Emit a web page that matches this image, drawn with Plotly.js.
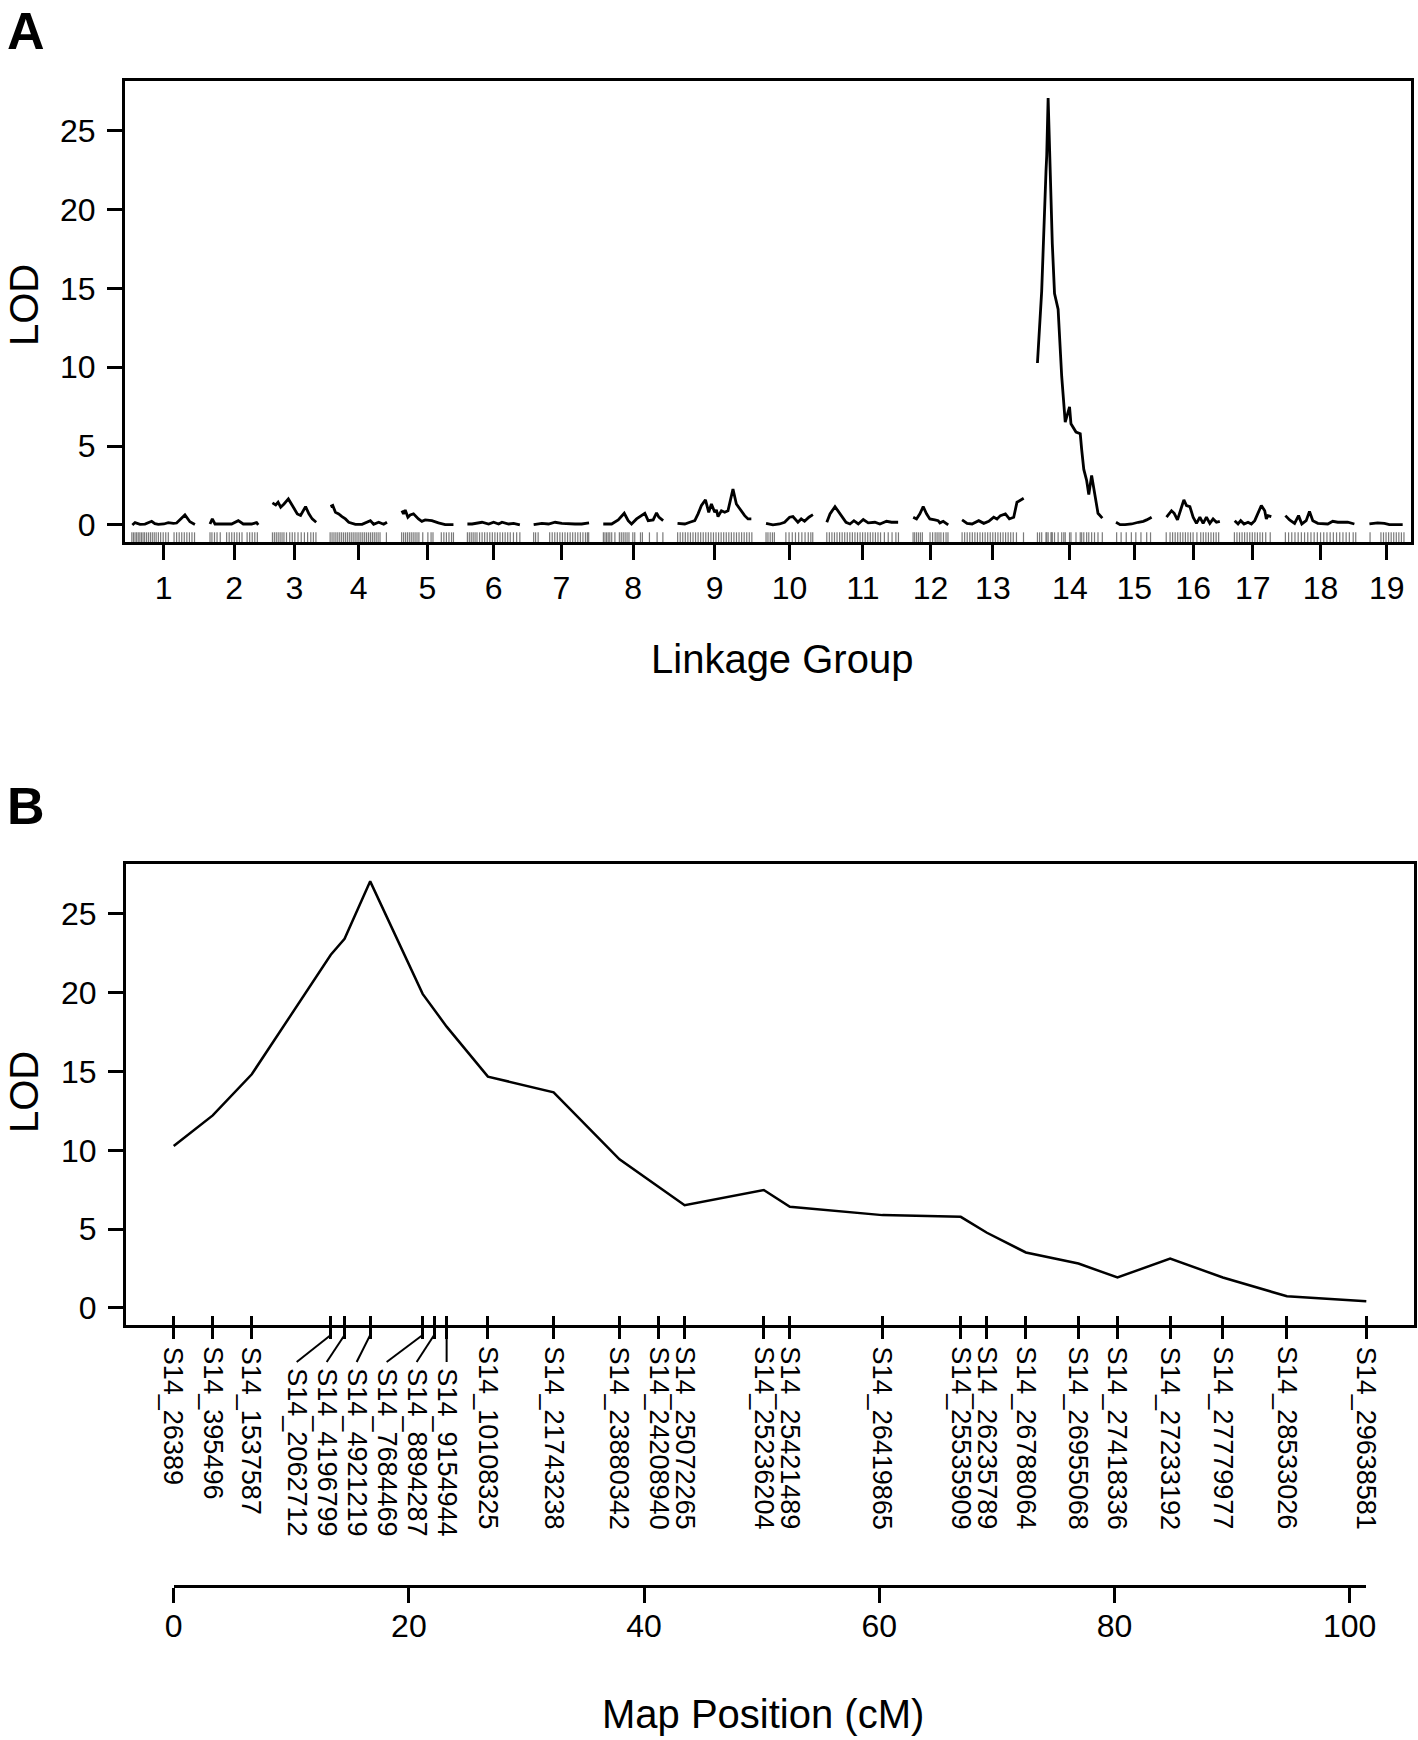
<!DOCTYPE html>
<html>
<head>
<meta charset="utf-8">
<script src="https://cdn.plot.ly/plotly-3.0.1.min.js"></script>
<style>
html,body{margin:0;padding:0;background:#ffffff;}
#plot{width:1418px;height:1740px;}
</style>
</head>
<body>
<div id="plot"></div>
<script>
// ---------------- DATA ----------------
// Panel A: genome-wide scan, 19 linkage groups (positions in cM within each group)
const chromosomes = ['1','2','3','4','5','6','7','8','9','10','11','12','13','14','15','16','17','18','19'];
const chrLengths = [99.8, 77.2, 68.8, 89.4, 82.4, 82.2, 86.6, 94.7, 117.8, 73.6, 113, 55.7, 96.4, 101.42, 57.1, 84.2, 59.3, 110, 54.3];
const chrGap = 21.4;

const lg1Pos = [0.8, 5, 12.8, 20.6, 31, 36, 41.4, 50, 57, 65, 70, 75.2, 83, 90.8, 98.6];
const lg1Lod = [0.0, 0.15, 0.04, 0.05, 0.23, 0.08, 0.03, 0.06, 0.15, 0.1, 0.12, 0.3, 0.63, 0.2, 0.03];
const lg2Pos = [1, 4.6, 8.8, 24.4, 34.8, 45.2, 53, 66, 73.8, 76.4];
const lg2Lod = [0.06, 0.38, 0.06, 0.06, 0.06, 0.27, 0.06, 0.06, 0.15, 0.0];
const lg3Pos = [0, 5.1, 8.8, 12.9, 18.1, 24.9, 31.1, 38.9, 44, 51.8, 57, 62.2, 68.4];
const lg3Lod = [1.4, 1.27, 1.44, 1.12, 1.33, 1.65, 1.23, 0.7, 0.6, 1.16, 0.7, 0.38, 0.17];
const lg4Pos = [0.5, 4.1, 8.3, 13.4, 18.6, 23.9, 29.1, 39.5, 49.9, 62.9, 68, 75.9, 83.7, 88.9];
const lg4Lod = [1.16, 1.23, 0.8, 0.7, 0.53, 0.38, 0.17, 0.04, 0.04, 0.27, 0.04, 0.17, 0.04, 0.17];
const lg5Pos = [1.4, 3.9, 6.6, 10.8, 14.4, 19.5, 27.3, 32.6, 37.8, 48.2, 58.5, 69, 82];
const lg5Lod = [0.9, 0.7, 0.95, 0.49, 0.63, 0.7, 0.38, 0.23, 0.32, 0.27, 0.13, 0.02, 0.02];
const lg6Pos = [0, 7.3, 22.9, 33.2, 41, 48.8, 54.1, 64.5, 72.3, 82];
const lg6Lod = [0.06, 0.06, 0.17, 0.06, 0.17, 0.06, 0.17, 0.06, 0.1, 0.0];
const lg7Pos = [0, 12.8, 23.2, 33.5, 44, 54.3, 64.7, 75.1, 86.6];
const lg7Lod = [0.02, 0.1, 0.06, 0.17, 0.1, 0.06, 0.06, 0.06, 0.13];
const lg8Pos = [0.8, 13.9, 24.2, 33.6, 39.8, 45, 52.9, 65.8, 71, 78.8, 84.1, 87.7, 94.4];
const lg8Lod = [0.06, 0.06, 0.32, 0.74, 0.27, 0.06, 0.38, 0.74, 0.27, 0.32, 0.76, 0.49, 0.27];
const lg9Pos = [0.8, 12.2, 20, 27.8, 32.9, 38.2, 44.5, 49.6, 53.8, 59, 61.6, 64.1, 69.4, 74.6, 79.7, 84, 87.5, 92.8, 98, 105.8, 111, 116.2];
const lg9Lod = [0.1, 0.06, 0.17, 0.27, 0.7, 1.23, 1.59, 0.8, 1.33, 0.8, 0.95, 0.53, 0.9, 0.8, 0.9, 1.65, 2.28, 1.33, 1.0, 0.59, 0.38, 0.38];
const lg10Pos = [0, 10.8, 21.2, 29, 36.8, 42, 49.8, 55, 60.2, 67, 73.3];
const lg10Lod = [0.1, 0.0, 0.06, 0.17, 0.49, 0.53, 0.17, 0.38, 0.23, 0.49, 0.65];
const lg11Pos = [0, 5, 12.8, 20.6, 30, 36.2, 42.4, 49.2, 57, 64.7, 75.2, 83, 93.4, 101.2, 111.5];
const lg11Lod = [0.17, 0.7, 1.16, 0.7, 0.17, 0.06, 0.27, 0.06, 0.34, 0.13, 0.17, 0.06, 0.23, 0.17, 0.17];
const lg12Pos = [0.7, 5.9, 11.1, 16.3, 21.5, 26.7, 34.5, 39.7, 42.4, 47.6, 55.4];
const lg12Lod = [0.49, 0.38, 0.7, 1.16, 0.7, 0.38, 0.32, 0.27, 0.13, 0.23, 0.0];
const lg13Pos = [0, 7.8, 15.6, 26, 33.9, 41.7, 49.5, 54.6, 59.9, 67.7, 73.9, 80.7, 85.8, 91.1, 96.3];
const lg13Lod = [0.32, 0.1, 0.06, 0.27, 0.1, 0.23, 0.49, 0.38, 0.59, 0.7, 0.38, 0.49, 1.44, 1.54, 1.69];
const lg15Pos = [0, 6.4, 14.2, 24.5, 34.9, 42.7, 47.9, 55.7];
const lg15Lod = [0.17, 0.02, 0.02, 0.06, 0.17, 0.23, 0.32, 0.49];
const lg16Pos = [0.5, 8.3, 12.5, 17.6, 23.9, 27.6, 31.7, 37, 42.1, 47.3, 52.6, 57.7, 62.9, 68.2, 73.3, 78.5, 83.8];
const lg16Lod = [0.49, 0.9, 0.74, 0.32, 1.12, 1.59, 1.23, 1.16, 0.49, 0.1, 0.49, 0.1, 0.49, 0.1, 0.38, 0.17, 0.23];
const lg17Pos = [1.5, 6.7, 10.9, 16.1, 22.3, 27.5, 32.8, 37.9, 43.1, 48.4, 50.9, 53.5, 58.7];
const lg17Lod = [0.27, 0.06, 0.27, 0.06, 0.17, 0.06, 0.27, 0.7, 1.23, 0.9, 0.38, 0.59, 0.53];
const lg18Pos = [0, 6.6, 14.4, 20.6, 25.7, 32.5, 37.7, 42.9, 50.7, 58.5, 66.3, 74.1, 81.9, 89.7, 97.5, 107.9];
const lg18Lod = [0.59, 0.32, 0.1, 0.59, 0.06, 0.27, 0.85, 0.27, 0.1, 0.06, 0.06, 0.23, 0.17, 0.17, 0.17, 0.06];
const lg19Pos = [0, 12.9, 23.4, 31.2, 41.6, 52];
const lg19Lod = [0.06, 0.13, 0.1, 0.02, 0.02, 0.02];

// marker positions (rug) per linkage group, cM
const rug1 = [0, 2.5, 5, 7.5, 10, 12.5, 15, 17.5, 20, 23, 26, 29, 32, 35, 38, 41.5, 45, 49, 53, 57, 66, 70, 74, 78, 82, 86, 90, 94, 98];
const rug2 = [1, 4, 8, 12, 17, 27, 31, 35, 39, 43, 47, 51, 59, 63, 67, 71, 75];
const rug3 = [0, 3, 6, 9, 12, 15, 18, 22, 27, 31, 35, 40, 45, 50, 55, 60, 64, 68];
const rug4 = [0, 3, 6, 9, 12, 15, 18, 21, 24, 27, 30, 33, 36, 39, 42, 45, 48, 51, 54, 57, 60, 63, 66, 69, 72, 75, 78, 88];
const rug5 = [1, 4, 7, 10, 13, 16, 19, 22, 25, 28, 34, 42, 47, 50, 63, 67, 71, 75, 79, 82];
const rug6 = [0, 3, 6, 9, 12, 15, 19, 23, 27, 31, 35, 39, 43, 47, 51, 55, 59, 63, 67, 72, 77, 82];
const rug7 = [0, 3, 7, 25, 29, 33, 37, 41, 45, 49, 53, 57, 61, 65, 69, 73, 77, 81, 84, 86];
const rug8 = [1, 3.5, 6, 8.5, 11, 14, 19, 26, 29, 32, 35, 38, 41, 47, 50, 59, 62, 73, 85, 94];
const rug9 = [1, 5, 9, 13, 17, 21, 25, 29, 33, 37, 41, 45, 49, 53, 57, 61, 65, 69, 73, 77, 81, 85, 89, 93, 97, 101, 105, 109, 113, 117];
const rug10 = [0, 3, 6.5, 10, 13, 31, 36, 41, 46, 51, 56, 61, 66, 70, 73];
const rug11 = [0, 4, 8, 12, 16, 20, 24, 28, 32, 36, 40, 44, 48, 52, 56, 60, 64, 68, 72, 76, 80, 84, 90, 96, 102, 108, 112];
const rug12 = [0.5, 3, 6, 9, 12, 15, 27, 31, 35, 38, 41, 44, 48, 52, 55];
const rug13 = [0, 4, 8, 12, 16, 20, 24, 28, 32, 36, 40, 44, 48, 52, 56, 60, 64, 68, 72, 76, 80, 85, 96];
const rug15 = [1, 8, 16, 24, 31, 39, 48, 54];
const rug16 = [0, 6, 10, 14, 18, 22, 26, 30, 34, 38, 42, 48, 54, 58, 62, 66, 70, 74, 78, 82];
const rug17 = [1, 5, 9, 13, 17, 21, 25, 29, 33, 37, 41, 45, 50, 57];
const rug18 = [0, 5, 10, 15, 20, 25, 30, 35, 40, 45, 50, 55, 60, 65, 70, 75, 80, 85, 90, 95, 100, 106, 110];
const rug19 = [1, 18, 22, 26, 30, 34, 38, 42, 46, 50, 54];

// Panel B: linkage group 14 markers
const markerNames = ['S14_26389','S14_395496','S14_1537587','S14_2062712','S14_4196799','S14_4921219','S14_7684469','S14_8894287','S14_9154944','S14_10108325','S14_21743238','S14_23880342','S14_24208940','S14_25072265','S14_25236204','S14_25421489','S14_26419865','S14_25535909','S14_26235789','S14_26788064','S14_26955068','S14_27418336','S14_27233192','S14_27779977','S14_28533026','S14_29638581'];
const markerPos = [0, 3.32, 6.64, 13.36, 14.53, 16.71, 21.17, 22.15, 23.21, 26.72, 32.31, 37.91, 41.23, 43.45, 50.18, 52.40, 60.27, 66.93, 69.16, 72.47, 76.94, 80.26, 84.74, 89.22, 94.67, 101.42];
const markerLod = [10.27, 12.22, 14.83, 22.41, 23.42, 27.07, 19.93, 18.9, 17.85, 14.68, 13.68, 9.43, 7.69, 6.52, 7.48, 6.42, 5.89, 5.78, 4.77, 3.52, 2.82, 1.93, 3.14, 1.93, 0.74, 0.43];
const mapTicks = [0, 20, 40, 60, 80, 100];
const yTicks = [0, 5, 10, 15, 20, 25];

// ---------------- BUILD ----------------
const W = 1418, H = 1740;
const px = v => v / W;
const py = v => 1 - v / H;
const FONT = 'Liberation Sans, Arial, Helvetica, sans-serif';

const lgPos = [lg1Pos, lg2Pos, lg3Pos, lg4Pos, lg5Pos, lg6Pos, lg7Pos, lg8Pos, lg9Pos, lg10Pos, lg11Pos, lg12Pos, lg13Pos, markerPos, lg15Pos, lg16Pos, lg17Pos, lg18Pos, lg19Pos];
const lgLod = [lg1Lod, lg2Lod, lg3Lod, lg4Lod, lg5Lod, lg6Lod, lg7Lod, lg8Lod, lg9Lod, lg10Lod, lg11Lod, lg12Lod, lg13Lod, markerLod, lg15Lod, lg16Lod, lg17Lod, lg18Lod, lg19Lod];
const rugs = [rug1, rug2, rug3, rug4, rug5, rug6, rug7, rug8, rug9, rug10, rug11, rug12, rug13, markerPos, rug15, rug16, rug17, rug18, rug19];

const offsets = [];
let acc = 0;
chrLengths.forEach((L, i) => { offsets.push(acc); acc += L + (i < chrLengths.length - 1 ? chrGap : 0); });
const totalLen = acc;
const mids = offsets.map((o, i) => o + chrLengths[i] / 2);

const allLod = [].concat(...lgLod);
const maxLod = Math.max(...allLod);
const yRangeA = [-0.04 * maxLod, maxLod * 1.04];

const ax = [], ay = [];
lgPos.forEach((p, i) => {
  p.forEach((v, j) => { ax.push(offsets[i] + v); ay.push(lgLod[i][j]); });
  ax.push(null); ay.push(null);
});
const rx = [], ry = [];
rugs.forEach((r, i) => {
  r.forEach(v => { rx.push(offsets[i] + v, offsets[i] + v, null); ry.push(-0.47, yRangeA[0], null); });
});

const bMax = Math.max(...markerLod);
const yRangeB = [-0.04 * bMax, bMax * 1.04];
const span = markerPos[markerPos.length - 1] - markerPos[0];
const xRangeB = [markerPos[0] - 0.04 * span, markerPos[markerPos.length - 1] + 0.04 * span];
const domB = [px(126), px(1414)];
const toDom = v => domB[0] + (v - xRangeB[0]) / (xRangeB[1] - xRangeB[0]) * (domB[1] - domB[0]);
const dom3 = [toDom(markerPos[0]), toDom(markerPos[markerPos.length - 1])];

// label spreading for the crowded group
const spreadGroup = [3, 4, 5, 6, 7, 8];
const labelGap = 2.55;
const labelPos = markerPos.slice();
const lastIdx = spreadGroup[spreadGroup.length - 1];
spreadGroup.forEach(i => { labelPos[i] = markerPos[lastIdx] - (lastIdx - i) * labelGap; });

const black = '#000000';
const axisCommon = {
  showgrid: false, zeroline: false, showline: true, linecolor: black, linewidth: 3,
  ticks: 'outside', tickcolor: black, tickwidth: 3, ticklen: 15,
  tickfont: {family: FONT, size: 32, color: black}
};

const traces = [
  {x: rx, y: ry, xaxis: 'x', yaxis: 'y', mode: 'lines', line: {color: '#7a7a7a', width: 1.2}, hoverinfo: 'skip', showlegend: false},
  {x: ax, y: ay, xaxis: 'x', yaxis: 'y', mode: 'lines', line: {color: black, width: 2.8}, connectgaps: false, showlegend: false},
  {x: markerPos, y: markerLod, xaxis: 'x2', yaxis: 'y2', mode: 'lines', line: {color: black, width: 2.5}, showlegend: false},
  {x: [markerPos[0]], y: [0], xaxis: 'x4', yaxis: 'y2', mode: 'markers', marker: {opacity: 0}, hoverinfo: 'skip', showlegend: false},
  {x: [markerPos[0]], y: [0.5], xaxis: 'x3', yaxis: 'y3', mode: 'markers', marker: {opacity: 0}, hoverinfo: 'skip', showlegend: false}
];

const annotations = [];
const shapes = [];
markerNames.forEach((n, i) => {
  const stag = spreadGroup.includes(i);
  annotations.push({
    text: n, x: labelPos[i], xref: 'x2', y: py(stag ? 1366 : 1344.5), yref: 'paper',
    xanchor: 'center', yanchor: 'top', textangle: 90, showarrow: false,
    font: {family: FONT, size: 27, color: black}
  });
  if (stag) {
    shapes.push({type: 'line', xref: 'x2', yref: 'paper', x0: markerPos[i], y0: py(1335), x1: labelPos[i], y1: py(1362),
      line: {color: black, width: 2}});
  }
});

const titleFont = {family: FONT, size: 40, color: black};
annotations.push(
  {text: 'Linkage Group', x: px(782), y: py(659), xref: 'paper', yref: 'paper', xanchor: 'center', yanchor: 'middle', showarrow: false, font: titleFont},
  {text: 'LOD', x: px(24), y: py(305), xref: 'paper', yref: 'paper', xanchor: 'center', yanchor: 'middle', textangle: -90, showarrow: false, font: titleFont},
  {text: 'LOD', x: px(24), y: py(1092), xref: 'paper', yref: 'paper', xanchor: 'center', yanchor: 'middle', textangle: -90, showarrow: false, font: titleFont},
  {text: 'Map Position (cM)', x: px(763), y: py(1714), xref: 'paper', yref: 'paper', xanchor: 'center', yanchor: 'middle', showarrow: false, font: titleFont},
  {text: '<b>A</b>', x: px(26), y: py(31), xref: 'paper', yref: 'paper', xanchor: 'center', yanchor: 'middle', showarrow: false, font: {family: FONT, size: 52, color: black}},
  {text: '<b>B</b>', x: px(26), y: py(806), xref: 'paper', yref: 'paper', xanchor: 'center', yanchor: 'middle', showarrow: false, font: {family: FONT, size: 52, color: black}}
);

const layout = {
  width: W, height: H,
  margin: {l: 0, r: 0, t: 0, b: 0, pad: 0},
  paper_bgcolor: '#ffffff', plot_bgcolor: '#ffffff',
  showlegend: false,
  font: {family: FONT, color: black},
  xaxis: Object.assign({}, axisCommon, {
    domain: [px(125), px(1411)], anchor: 'y', range: [-chrGap / 2, totalLen + chrGap / 2],
    tickmode: 'array', tickvals: mids, ticktext: chromosomes, mirror: true, ticklabelstandoff: 1
  }),
  yaxis: Object.assign({}, axisCommon, {
    domain: [py(542), py(81)], anchor: 'x', range: yRangeA,
    tickmode: 'array', tickvals: yTicks, mirror: true, ticklabelstandoff: 5
  }),
  xaxis2: Object.assign({}, axisCommon, {
    domain: domB, anchor: 'y2', range: xRangeB,
    tickmode: 'array', tickvals: markerPos, ticktext: markerPos.map(() => ''), ticklen: 11, mirror: true, showticklabels: false
  }),
  xaxis4: {
    overlaying: 'x2', anchor: 'y2', range: xRangeB, side: 'bottom',
    showgrid: false, zeroline: false, showline: false, showticklabels: false,
    ticks: 'inside', ticklen: 9, tickwidth: 3, tickcolor: black, tickmode: 'array', tickvals: markerPos
  },
  yaxis2: Object.assign({}, axisCommon, {
    domain: [py(1325), py(864.3)], anchor: 'x2', range: yRangeB,
    tickmode: 'array', tickvals: yTicks, mirror: true, ticklabelstandoff: 5
  }),
  xaxis3: Object.assign({}, axisCommon, {
    domain: dom3, anchor: 'y3', range: [markerPos[0], markerPos[markerPos.length - 1]],
    tickmode: 'array', tickvals: mapTicks, ticklabelstandoff: -4
  }),
  yaxis3: {domain: [py(1585), py(1570)], anchor: 'x3', range: [0, 1], visible: false, showgrid: false, zeroline: false},
  annotations: annotations,
  shapes: shapes
};

Plotly.newPlot('plot', traces, layout, {staticPlot: true, displayModeBar: false});
</script>
</body>
</html>
